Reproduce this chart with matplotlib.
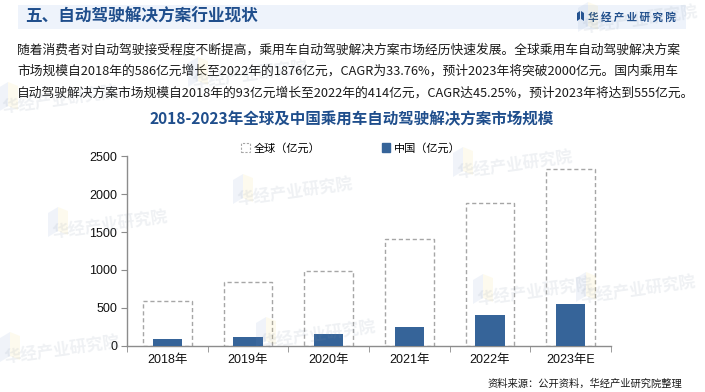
import matplotlib.pyplot as plt
import matplotlib.patches as mpatches
from matplotlib.patches import Rectangle, Polygon
import numpy as np

plt.rcParams["font.family"] = ["Noto Sans CJK SC", "DejaVu Sans"]

years = ["2018年", "2019年", "2020年", "2021年", "2022年", "2023年E"]
global_vals = [586, 840, 990, 1405, 1876, 2330]
china_vals = [93, 118, 162, 250, 414, 555]
yticks = [0, 500, 1000, 1500, 2000, 2500]

header = "五、自动驾驶解决方案行业现状"
brand = "华 经 产 业 研 究 院"
para = [
    "随着消费者对自动驾驶接受程度不断提高，乘用车自动驾驶解决方案市场经历快速发展。全球乘用车自动驾驶解决方案",
    "市场规模自2018年的586亿元增长至2022年的1876亿元，CAGR为33.76%，预计2023年将突破2000亿元。国内乘用车",
    "自动驾驶解决方案市场规模自2018年的93亿元增长至2022年的414亿元，CAGR达45.25%，预计2023年将达到555亿元。",
]
chart_title = "2018-2023年全球及中国乘用车自动驾驶解决方案市场规模"
source = "资料来源：公开资料，华经产业研究院整理"

W, H = 705, 392
blue = "#366499"
dark_blue = "#1f4e8c"
gray = "#8c8c8c"


def fx(px):
    return px / W


def fy(py):
    return 1 - py / H


fig = plt.figure(figsize=(W / 100, H / 100), dpi=100)
fig.patch.set_facecolor("white")

# header band
fig.patches.append(Rectangle((fx(18), fy(29)), fx(686 - 18), 24 / H,
                             transform=fig.transFigure, facecolor="#eef3fb",
                             edgecolor="none", zorder=1))
fig.text(fx(25), fy(17), header, fontsize=12, fontweight="bold", color=dark_blue,
         ha="left", va="center", zorder=2)
fig.patches.append(Polygon([(fx(577), fy(21)), (fx(580), fy(19)), (fx(580), fy(11)), (fx(577), fy(13))],
                           closed=True, transform=fig.transFigure, facecolor=dark_blue, zorder=2))
fig.patches.append(Polygon([(fx(581), fy(19)), (fx(584), fy(21)), (fx(584), fy(13)), (fx(581), fy(11))],
                           closed=True, transform=fig.transFigure, facecolor=dark_blue, zorder=2))
fig.text(fx(588), fy(17), brand, fontsize=7.6, fontweight="bold", color=dark_blue,
         ha="left", va="center", zorder=2)

# paragraph
for i, line in enumerate(para):
    fig.text(fx(17), fy(50 + i * 21.5), line, fontsize=9.2, color="#1a1a1a",
             ha="left", va="center", zorder=2)

fig.text(fx(352), fy(119), chart_title, fontsize=11.2, fontweight="bold",
         color=dark_blue, ha="center", va="center", zorder=2)

fig.text(fx(682), fy(384), source, fontsize=7.4, color="#1a1a1a",
         ha="right", va="center", zorder=2)

# chart
ax = fig.add_axes([fx(127), fy(346), fx(611 - 127), (346 - 156) / H])
ax.patch.set_alpha(0)
x = np.arange(len(years))
ax.bar(x, global_vals, width=0.6, facecolor="white", edgecolor="#a6a6a6",
       linestyle=(0, (3, 2)), linewidth=1.0, zorder=2)
ax.bar(x, china_vals, width=0.36, color=blue, zorder=3)

ax.set_xlim(-0.5, len(years) - 0.5)
ax.set_ylim(0, 2500)
ax.set_yticks(yticks)
ax.set_yticklabels([str(v) for v in yticks], family=["Liberation Sans", "DejaVu Sans"])
ax.set_xticks(x)
ax.set_xticklabels(years, family=["Liberation Sans", "Noto Sans CJK SC"])
ax.set_xticks(np.arange(-0.5, len(years)), minor=True)
ax.tick_params(axis="x", which="major", length=0, pad=6, labelsize=9, colors="#111111")
ax.tick_params(axis="x", which="minor", length=4, color=gray)
ax.tick_params(axis="y", length=4, color=gray, labelsize=9, labelcolor="#111111", pad=3)
for s in ["top", "right"]:
    ax.spines[s].set_visible(False)
for s in ["left", "bottom"]:
    ax.spines[s].set_color(gray)
    ax.spines[s].set_linewidth(1.0)

h_global = mpatches.Patch(facecolor="white", edgecolor="#a6a6a6", linestyle=(0, (2, 1.5)), linewidth=0.8)
h_china = mpatches.Patch(facecolor=blue, edgecolor=blue)
ax.legend([h_global, h_china], ["全球（亿元）", "中国（亿元）"], ncol=2,
          loc="center", bbox_to_anchor=((351 - 127) / 484, 1 + 8 / 190), frameon=False,
          fontsize=8, handlelength=0.75, handleheight=0.75, handletextpad=0.35,
          columnspacing=5.5, borderpad=0)

# faint watermarks laid over everything
marks = [(60, 100), (250, 75), (640, 20), (110, 225), (295, 192), (515, 165),
         (535, 292), (318, 335), (62, 350), (638, 290)]
for mx, my in marks:
    fig.patches.append(Polygon([(fx(mx - 62), fy(my + 12)), (fx(mx - 52), fy(my + 6)),
                                (fx(mx - 52), fy(my - 18)), (fx(mx - 62), fy(my - 12))],
                               closed=True, transform=fig.transFigure,
                               facecolor="#6f93c8", alpha=0.1, edgecolor="none", zorder=5))
    fig.patches.append(Polygon([(fx(mx - 52), fy(my + 6)), (fx(mx - 42), fy(my + 10)),
                                (fx(mx - 42), fy(my - 14)), (fx(mx - 52), fy(my - 18))],
                               closed=True, transform=fig.transFigure,
                               facecolor="#f2d55c", alpha=0.1, edgecolor="none", zorder=5))
    fig.text(fx(mx), fy(my), "华经产业研究院", fontsize=12, fontweight="bold",
             color="#7f8ea3", alpha=0.12, rotation=8, ha="center", va="center", zorder=5)

fig.savefig("out.png", dpi=100)
